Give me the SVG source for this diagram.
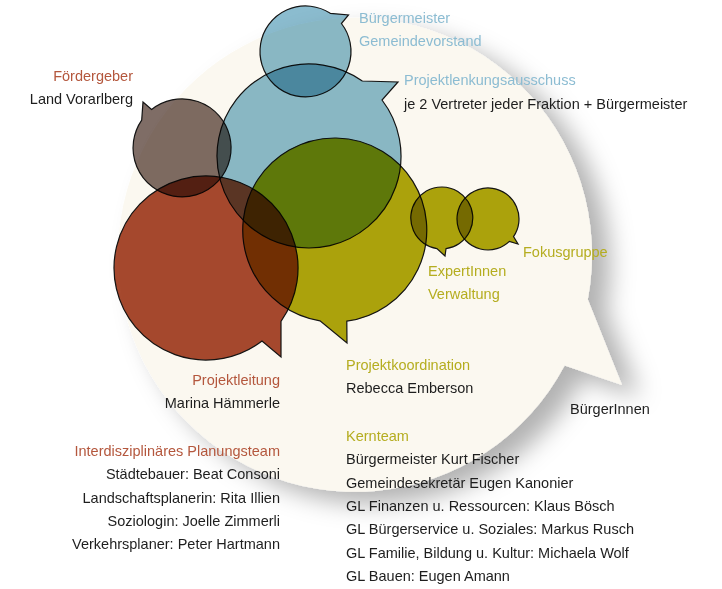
<svg xmlns="http://www.w3.org/2000/svg" width="722" height="589" viewBox="0 0 722 589">
<defs>
<style>
.bub{stroke:#141414;stroke-width:1.2;stroke-linejoin:miter;mix-blend-mode:multiply}
.t{font-family:"Liberation Sans",Arial,sans-serif;font-size:14.5px;fill:#1e1e1e}
.blue{fill:#8cbcd2}
.red{fill:#b4573d}
.olive{fill:#b5ad20}
.e{text-anchor:end}
</style>
<filter id="sh" x="-20%" y="-20%" width="150%" height="150%">
<feDropShadow dx="18" dy="12" stdDeviation="12" flood-color="#000" flood-opacity="0.3"/>
</filter>
</defs>
<rect width="722" height="589" fill="#ffffff"/>
<g id="buergerinnen">
<path d="M564.6,365.5 A237,237 0 1 1 587.8,299.4 L622,385 Z" fill="#fbf8f0" filter="url(#sh)"/>
<text class="t" x="570" y="414">BürgerInnen</text>
</g>
<g id="connectors"></g>
<g id="buergermeister">
<path class="bub" d="M341.4,23.5 A45.5,45.5 0 1 1 330.3,13.3 L348.5,15 Z" fill="#8bbccf"/>
<text class="t blue" x="359" y="23">Bürgermeister</text>
<text class="t blue" x="359" y="46">Gemeindevorstand</text>
</g>
<g id="projektlenkung">
<path class="bub" d="M382,100 A92,92 0 1 1 362.3,81 L398,82 Z" fill="#8bbccf"/>
<text class="t blue" x="404" y="85">Projektlenkungsausschuss</text>
<text class="t" x="404" y="108.5">je 2 Vertreter jeder Fraktion + Bürgermeister</text>
</g>
<g id="foerdergeber">
<path class="bub" d="M151.6,109.5 A49,49 0 1 1 141.7,120.1 L143,102 Z" fill="#7f6d66"/>
<text class="t red e" x="133" y="81">Fördergeber</text>
<text class="t e" x="133" y="104">Land Vorarlberg</text>
</g>
<g id="projektleitung">
<path class="bub" d="M262,341 A92,92 0 1 1 281,321.3 L281,357 Z" fill="#a84a2f"/>
<text class="t red e" x="280" y="385">Projektleitung</text>
<text class="t e" x="280" y="408">Marina Hämmerle</text>
</g>
<g id="projektkoordination">
<path class="bub" d="M320,320.8 A92,92 0 1 1 346.8,321.2 L347,343 Z" fill="#aea70c"/>
<text class="t olive" x="346" y="370">Projektkoordination</text>
<text class="t" x="346" y="393">Rebecca Emberson</text>
</g>
<g id="expertinnen">
<path class="bub" d="M436.9,248.6 A31,31 0 1 1 446,248.7 L445,256 Z" fill="#aea70c"/>
<text class="t olive" x="428" y="276">ExpertInnen</text>
<text class="t olive" x="428" y="299">Verwaltung</text>
</g>
<g id="fokusgruppe">
<path class="bub" d="M509.4,241.4 A31,31 0 1 1 513.5,236.6 L518,244 Z" fill="#aea70c"/>
<text class="t olive" x="523" y="257">Fokusgruppe</text>
</g>
<g id="kernteam">
<text class="t olive" x="346" y="441">Kernteam</text>
<text class="t" x="346" y="464">Bürgermeister Kurt Fischer</text>
<text class="t" x="346" y="487.5">Gemeindesekretär Eugen Kanonier</text>
<text class="t" x="346" y="511">GL Finanzen u. Ressourcen: Klaus Bösch</text>
<text class="t" x="346" y="534">GL Bürgerservice u. Soziales: Markus Rusch</text>
<text class="t" x="346" y="558">GL Familie, Bildung u. Kultur: Michaela Wolf</text>
<text class="t" x="346" y="581">GL Bauen: Eugen Amann</text>
</g>
<g id="planungsteam">
<text class="t red e" x="280" y="456">Interdisziplinäres Planungsteam</text>
<text class="t e" x="280" y="479">Städtebauer: Beat Consoni</text>
<text class="t e" x="280" y="503">Landschaftsplanerin: Rita Illien</text>
<text class="t e" x="280" y="526">Soziologin: Joelle Zimmerli</text>
<text class="t e" x="280" y="549">Verkehrsplaner: Peter Hartmann</text>
</g>
</svg>
